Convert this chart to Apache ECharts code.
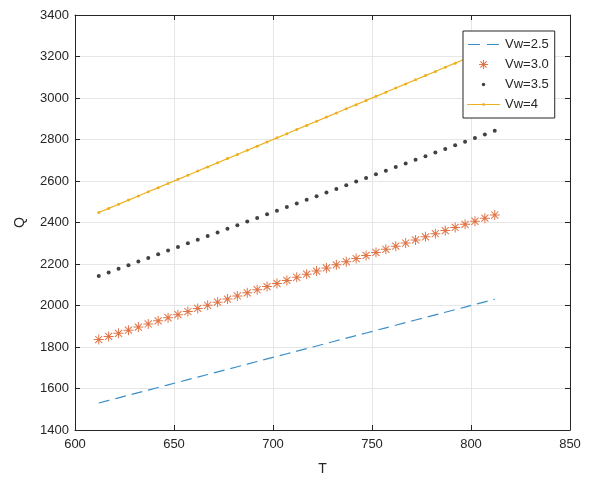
<!DOCTYPE html>
<html>
<head>
<meta charset="utf-8">
<script src="https://cdn.jsdelivr.net/npm/echarts@6/dist/echarts.min.js"></script>
<style>
  html, body { margin: 0; padding: 0; background: #fff; }
  #chart { width: 593px; height: 481px; }
</style>
</head>
<body>
<div id="chart"></div>
<script>
// Temperature samples
const T = [612, 617, 622, 627, 632, 637, 642, 647, 652, 657, 662, 667, 672, 677, 682, 687, 692, 697, 702, 707,
  712, 717, 722, 727, 732, 737, 742, 747, 752, 757, 762, 767, 772, 777, 782, 787, 792, 797, 802, 807, 812];

// Q for each wind speed
const qVw25 = [1530, 1542.5, 1555, 1567.5, 1580, 1592.5, 1605, 1617.5, 1630, 1642.5, 1655, 1667.5, 1680, 1692.5,
  1705, 1717.5, 1730, 1742.5, 1755, 1767.5, 1780, 1792.5, 1805, 1817.5, 1830, 1842.5, 1855, 1867.5, 1880, 1892.5,
  1905, 1917.5, 1930, 1942.5, 1955, 1967.5, 1980, 1992.5, 2005, 2017.5, 2030];
const qVw30 = [1836, 1851, 1866, 1881, 1896, 1911, 1926, 1941, 1956, 1971, 1986, 2001, 2016, 2031, 2046, 2061,
  2076, 2091, 2106, 2121, 2136, 2151, 2166, 2181, 2196, 2211, 2226, 2241, 2256, 2271, 2286, 2301, 2316, 2331,
  2346, 2361, 2376, 2391, 2406, 2421, 2436];
const qVw35 = [2142, 2159.5, 2177, 2194.5, 2212, 2229.5, 2247, 2264.5, 2282, 2299.5, 2317, 2334.5, 2352, 2369.5,
  2387, 2404.5, 2422, 2439.5, 2457, 2474.5, 2492, 2509.5, 2527, 2544.5, 2562, 2579.5, 2597, 2614.5, 2632, 2649.5,
  2667, 2684.5, 2702, 2719.5, 2737, 2754.5, 2772, 2789.5, 2807, 2824.5, 2842];
const qVw40 = [2448, 2468, 2488, 2508, 2528, 2548, 2568, 2588, 2608, 2628, 2648, 2668, 2688, 2708, 2728, 2748,
  2768, 2788, 2808, 2828, 2848, 2868, 2888, 2908, 2928, 2948, 2968, 2988, 3008, 3028, 3048, 3068, 3088, 3108,
  3128, 3148, 3168, 3188, 3208, 3228, 3248];

const seriesNames = ['Vw=2.5', 'Vw=3.0', 'Vw=3.5', 'Vw=4'];

// Axis ranges and tick spacing
const xMin = 600, xMax = 850, xStep = 50;
const yMin = 1400, yMax = 3400, yStep = 200;

const pairs = (ys) => T.map((t, i) => [t, ys[i]]);

// Eight-armed asterisk marker
const asterisk = 'path://M0 9 L20 9 L20 11 L0 11 Z M9 0 L11 0 L11 20 L9 20 Z ' +
  'M2.22 3.64 L3.64 2.22 L17.78 16.36 L16.36 17.78 Z M16.36 2.22 L17.78 3.64 L3.64 17.78 L2.22 16.36 Z';

// Legend icons drawn in a 33x12 box (corner specks pin the box size)
const boxPins = 'M0 0 L0.01 0 L0.01 0.01 Z M33 12 L32.99 12 L32.99 11.99 Z ';
const iconDashed = 'path://' + boxPins + 'M1 5.4 L13 5.4 L13 6.6 L1 6.6 Z M20 5.4 L32 5.4 L32 6.6 L20 6.6 Z';
const iconStar = 'path://' + boxPins +
  'M12 5.45 L21 5.45 L21 6.55 L12 6.55 Z M15.95 1.5 L17.05 1.5 L17.05 10.5 L15.95 10.5 Z ' +
  'M12.93 3.21 L13.71 2.43 L20.07 8.79 L19.29 9.57 Z M19.29 2.43 L20.07 3.21 L13.71 9.57 L12.93 8.79 Z';
const iconDot = 'path://' + boxPins +
  'M16.5 4.2 L17.8 4.7 L18.3 6 L17.8 7.3 L16.5 7.8 L15.2 7.3 L14.7 6 L15.2 4.7 Z';
const iconLineDot = 'path://' + boxPins +
  'M0 5.45 L33 5.45 L33 6.55 L0 6.55 Z M16.5 4.4 L17.6 4.9 L18.1 6 L17.6 7.1 L16.5 7.6 L15.4 7.1 L14.9 6 L15.4 4.9 Z';
const legendIcons = [iconDashed, iconStar, iconDot, iconLineDot];

const axisColor = '#262626';
const gridColor = '#e6e6e6';
const font = '"Liberation Sans", Arial, sans-serif';

const baseAxis = {
  axisLine: { show: true, lineStyle: { color: axisColor, width: 1 } },
  axisTick: { show: true, inside: true, length: 5, lineStyle: { color: axisColor } }
};
const tickLabel = { color: axisColor, fontSize: 13, fontFamily: font, margin: 6, formatter: (v) => String(v) };

const chart = echarts.init(document.getElementById('chart'));
chart.setOption({
  backgroundColor: '#fff',
  animation: false,
  grid: { left: 75, right: 23, top: 15, bottom: 49 },
  xAxis: [
    Object.assign({}, baseAxis, {
      type: 'value', min: xMin, max: xMax, interval: xStep,
      name: 'T', nameLocation: 'middle', nameGap: 32,
      nameTextStyle: { color: axisColor, fontSize: 14, fontFamily: font },
      axisLabel: Object.assign({}, tickLabel, { margin: 8 }),
      splitLine: { show: true, lineStyle: { color: gridColor, width: 1 } }
    }),
    Object.assign({}, baseAxis, {
      type: 'value', position: 'top', min: xMin, max: xMax, interval: xStep,
      axisLabel: { show: false }, splitLine: { show: false }
    })
  ],
  yAxis: [
    Object.assign({}, baseAxis, {
      type: 'value', min: yMin, max: yMax, interval: yStep,
      name: 'Q', nameLocation: 'middle', nameGap: 48, nameRotate: 90,
      nameTextStyle: { color: axisColor, fontSize: 14, fontFamily: font },
      axisLabel: tickLabel,
      splitLine: { show: true, lineStyle: { color: gridColor, width: 1 } }
    }),
    Object.assign({}, baseAxis, {
      type: 'value', position: 'right', min: yMin, max: yMax, interval: yStep,
      axisLabel: { show: false }, splitLine: { show: false }
    })
  ],
  legend: {
    data: seriesNames.map((name, i) => ({ name: name, icon: legendIcons[i] })),
    orient: 'vertical',
    left: 463, top: 31,
    padding: [7, 6, 7, 4],
    itemWidth: 33, itemHeight: 12, itemGap: 7,
    backgroundColor: '#fff',
    borderColor: axisColor, borderWidth: 1, borderRadius: 0,
    itemStyle: { borderWidth: 0 },
    textStyle: { color: axisColor, fontSize: 13, fontFamily: font },
    z: 10
  },
  series: [
    {
      name: seriesNames[0], type: 'line', data: pairs(qVw25),
      symbol: 'none', color: '#3a8fc8',
      lineStyle: { type: [11, 6], width: 1.2, color: '#3a8fc8' }
    },
    {
      name: seriesNames[1], type: 'scatter', data: pairs(qVw30),
      symbol: asterisk, symbolSize: 10, color: '#D95319',
      itemStyle: { color: '#D95319' }
    },
    {
      name: seriesNames[2], type: 'scatter', data: pairs(qVw35),
      symbol: 'circle', symbolSize: 4, color: '#111',
      itemStyle: { color: '#111' }
    },
    {
      name: seriesNames[3], type: 'line', data: pairs(qVw40),
      symbol: 'circle', symbolSize: 3, showAllSymbol: true, color: '#EDB120',
      itemStyle: { color: '#EDB120', borderWidth: 0 },
      lineStyle: { width: 1.2, color: '#EDB120' }
    }
  ]
});
</script>
</body>
</html>
